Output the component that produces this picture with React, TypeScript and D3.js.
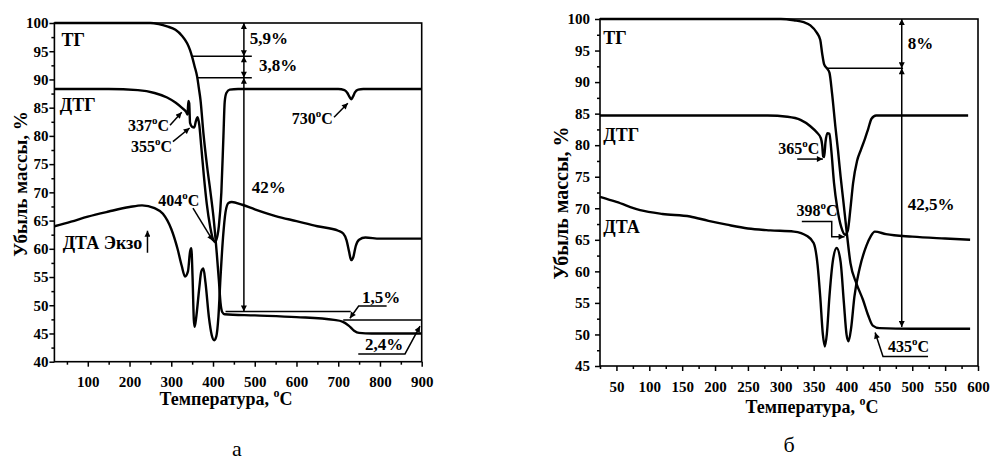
import React, { useRef, useEffect } from 'react';
import * as d3 from 'd3';

type Pt = [number, number];

const FONT = '"Liberation Serif", "Times New Roman", serif';

// ---- panel "а" (temperature, °C ; mass loss, %)
const tgA: Pt[] = [
  [20, 100], [250, 100], [270, 99.8], [290, 99.4], [310, 98.8], [325, 97.8], [338, 96.4],
  [345, 95.2], [350, 94.0], [356, 92.3], [362, 90.5], [366, 88.5], [370, 86.4], [377, 80.5],
  [386, 74.5], [394, 70], [401, 65.7], [409, 59.2], [414, 54.5], [418, 50.4], [422, 48.8],
  [428, 48.4], [500, 48.2], [600, 47.9], [690, 47.4], [710, 47.1], [725, 46.4], [738, 45.5],
  [750, 45.1], [780, 45.0], [900, 45.0],
];
const dtgA: Pt[] = [
  [20, 88.3], [150, 88.3], [220, 88.1], [260, 87.6], [290, 86.8], [310, 85.9], [325, 85.0],
  [336, 84.2], [339, 83.8], [341, 86.2], [343, 85.8], [345, 82.3], [350, 81.6], [355, 81.5],
  [359, 82.6], [363, 83.3], [367, 82.0], [372, 78], [378, 73], [385, 68], [393, 64],
  [400, 61.7], [404, 61.2], [408, 61.6], [414, 64], [420, 70], [425, 80], [428, 86],
  [432, 87.6], [440, 88.2], [460, 88.3], [700, 88.3], [715, 88.1], [722, 87.6], [727, 86.9],
  [731, 86.5], [735, 86.9], [740, 87.7], [748, 88.2], [760, 88.3], [900, 88.3],
];
const dtaA: Pt[] = [
  [20, 64.0], [60, 64.8], [100, 65.7], [150, 66.6], [200, 67.4], [230, 67.7], [260, 67.2],
  [280, 66.2], [300, 63.5], [315, 60], [325, 57], [333, 55.1], [340, 56], [345, 59.5],
  [348, 60.1], [351, 55], [354, 47.5], [356, 46.2], [360, 48], [367, 53], [372, 56],
  [377, 56.5], [382, 54], [390, 48], [397, 44.7], [403, 43.8], [408, 44.5], [413, 48],
  [418, 55], [424, 62], [430, 66.5], [437, 68.1], [445, 68.3], [470, 67.8], [500, 67.0],
  [550, 65.8], [600, 64.9], [650, 64.0], [700, 63.2], [712, 62.7], [720, 61.5], [726, 59.5],
  [731, 58.0], [736, 58.5], [742, 60.5], [750, 61.6], [765, 62.0], [800, 61.8], [900, 61.8],
];
const xTicksA = [100, 200, 300, 400, 500, 600, 700, 800, 900];
const xMinorA = [50, 150, 250, 350, 450, 550, 650, 750, 850];
const yTicksA = [40, 45, 50, 55, 60, 65, 70, 75, 80, 85, 90, 95, 100];
const yMinorA = [42.5, 47.5, 52.5, 57.5, 62.5, 67.5, 72.5, 77.5, 82.5, 87.5, 92.5, 97.5];

// ---- panel "б"
const tgB: Pt[] = [
  [25, 100], [300, 100], [320, 99.8], [335, 99.5], [345, 99.0], [355, 97.8], [360, 96.7],
  [363, 94.5], [366, 92.8], [370, 92.2], [374, 91.5], [378, 88.2], [383, 83], [387, 79.2],
  [391, 75], [395, 71.3], [400, 66.5], [406, 61.3], [415, 58.1], [425, 55.5], [433, 53],
  [440, 51.4], [450, 51.0], [500, 50.9], [588, 50.9],
];
const dtgB: Pt[] = [
  [25, 84.7], [280, 84.7], [310, 84.5], [330, 84.0], [345, 83.0], [355, 82.0], [361, 81.1],
  [363, 80], [364.5, 78.2], [366, 78.1], [368, 80.5], [371, 81.9], [374, 81.8], [377, 79],
  [381, 74], [386, 70], [392, 67], [398, 65.8], [402, 66.5], [406, 70], [410, 74],
  [416, 77.5], [422, 79.3], [428, 81], [433, 82.6], [438, 84.2], [445, 84.7], [585, 84.7],
];
const dtaB: Pt[] = [
  [25, 71.8], [50, 71.0], [86, 69.7], [120, 69.1], [162, 68.7], [190, 68.0], [218, 67.4],
  [250, 66.8], [284, 66.5], [320, 66.3], [340, 65.6], [350, 64.5], [356, 61], [360, 56],
  [364, 50], [367, 48.1], [370, 50], [374, 56], [379, 61.5], [385, 63.7], [391, 61.5],
  [396, 55], [400, 50], [403, 48.9], [407, 51], [412, 56], [420, 60.5], [430, 64],
  [437, 65.6], [443, 66.3], [460, 65.9], [500, 65.5], [550, 65.2], [588, 65.0],
];
const xTicksB = [50, 100, 150, 200, 250, 300, 350, 400, 450, 500, 550, 600];
const xMinorB = [25, 75, 125, 175, 225, 275, 325, 375, 425, 475, 525, 575];
const yTicksB = [45, 50, 55, 60, 65, 70, 75, 80, 85, 90, 95, 100];
const yMinorB = [47.5, 52.5, 57.5, 62.5, 67.5, 72.5, 77.5, 82.5, 87.5, 92.5, 97.5];

// annotation: text (deg = superscript "o" + C after the number), lines with arrows
type Label = { t: number; v: number; text: string; size: number; anchor?: string; deg?: boolean };
type Seg = { pts: Pt[]; start?: boolean; end?: boolean };

const labelsA: Label[] = [
  { t: 37, v: 95.9, text: 'ТГ', size: 18 },
  { t: 33, v: 84.4, text: 'ДТГ', size: 18 },
  { t: 40, v: 60.0, text: 'ДТА Экзо', size: 18 },
  { t: 295, v: 80.8, text: '337', size: 16, anchor: 'end', deg: true },
  { t: 302, v: 77.1, text: '355', size: 16, anchor: 'end', deg: true },
  { t: 318, v: 67.6, text: '404', size: 16, anchor: 'middle', deg: true },
  { t: 687, v: 82.1, text: '730', size: 16, anchor: 'end', deg: true },
  { t: 488, v: 96.3, text: '5,9%', size: 17 },
  { t: 510, v: 91.5, text: '3,8%', size: 17 },
  { t: 493, v: 69.9, text: '42%', size: 17 },
  { t: 757, v: 50.4, text: '1,5%', size: 17 },
  { t: 764, v: 42.1, text: '2,4%', size: 17 },
];
const segsA: Seg[] = [
  { pts: [[350, 94.1], [493, 94.1]] },
  { pts: [[362, 90.3], [493, 90.3]] },
  { pts: [[430, 48.9], [730, 48.9]] },
  { pts: [[712, 47.4], [900, 47.4]] },
  { pts: [[474, 100], [474, 94.1]], start: true, end: true },
  { pts: [[474, 94.1], [474, 90.3]], start: true, end: true },
  { pts: [[474, 90.3], [474, 48.9]], start: true, end: true },
  { pts: [[297, 81.9], [325, 84.2]], end: true },
  { pts: [[304, 79.0], [344, 81.4]], end: true },
  { pts: [[352, 67.2], [400, 61.4]], end: true },
  { pts: [[690, 83.3], [723, 85.8]], end: true },
  { pts: [[816, 49.86], [749, 49.86], [728, 47.7]], end: true },
  { pts: [[748, 41.37], [860, 41.37], [896, 46.3]], end: true },
  { pts: [[243, 59.3], [243, 63.2]], end: true },
];

const labelsB: Label[] = [
  { t: 30, v: 96.0, text: 'ТГ', size: 18 },
  { t: 30, v: 80.7, text: 'ДТГ', size: 18 },
  { t: 30, v: 66.1, text: 'ДТА', size: 18 },
  { t: 296, v: 78.6, text: '365', size: 16, deg: true },
  { t: 324, v: 68.8, text: '398', size: 16, deg: true },
  { t: 463, v: 47.2, text: '435', size: 16, deg: true },
  { t: 493, v: 95.2, text: '8%', size: 17 },
  { t: 493, v: 69.7, text: '42,5%', size: 17 },
];
const segsB: Seg[] = [
  { pts: [[370, 92.2], [486, 92.2]] },
  { pts: [[484, 100], [484, 92.2]], start: true, end: true },
  { pts: [[484, 92.2], [484, 51.2]], start: true, end: true },
  { pts: [[325, 77.8], [364, 77.8]], end: true },
  { pts: [[332, 67.9], [377.5, 67.9], [377.5, 65.5], [397, 65.5]], end: true },
  { pts: [[524, 46.5], [455.5, 46.5], [443.5, 50.3]], end: true },
];

type Panel = {
  xDomain: Pt; xRange: Pt; yDomain: Pt; yRange: Pt;
  xTicks: number[]; xMinor: number[]; yTicks: number[]; yMinor: number[];
  curves: Pt[][]; labels: Label[]; segs: Seg[];
  yPad: number; yTitle: Pt; yTitleSize: number; xTitle: Pt; letter: string; letterPos: Pt;
};

const panels: Panel[] = [
  {
    xDomain: [20, 900], xRange: [54.4, 421.7], yDomain: [40, 100], yRange: [361.7, 23],
    xTicks: xTicksA, xMinor: xMinorA, yTicks: yTicksA, yMinor: yMinorA,
    curves: [tgA, dtgA, dtaA], labels: labelsA, segs: segsA,
    yPad: 1, yTitle: [20, 184], yTitleSize: 19, xTitle: [226, 405], letter: 'а', letterPos: [237, 456],
  },
  {
    xDomain: [25, 600], xRange: [600, 978], yDomain: [45, 100], yRange: [366, 19],
    xTicks: xTicksB, xMinor: xMinorB, yTicks: yTicksB, yMinor: yMinorB,
    curves: [tgB, dtgB, dtaB], labels: labelsB, segs: segsB,
    yPad: 5, yTitle: [561, 203], yTitleSize: 20, xTitle: [812, 413], letter: 'б', letterPos: [789, 452],
  },
];

function drawPanel(svg: any, p: Panel) {
  const x = d3.scaleLinear().domain(p.xDomain).range(p.xRange);
  const y = d3.scaleLinear().domain(p.yDomain).range(p.yRange);
  const g = svg.append('g');

  // minor ticks
  g.append('g')
    .attr('transform', `translate(0,${p.yRange[0]})`)
    .call(d3.axisBottom(x).tickValues(p.xMinor).tickSize(3).tickSizeOuter(0).tickFormat(() => ''));
  g.append('g')
    .attr('transform', `translate(${p.xRange[0]},0)`)
    .call(d3.axisLeft(y).tickValues(p.yMinor).tickSize(3).tickSizeOuter(0).tickFormat(() => ''));

  // major ticks
  g.append('g')
    .attr('class', 'x axis')
    .attr('transform', `translate(0,${p.yRange[0]})`)
    .call(d3.axisBottom(x).tickValues(p.xTicks).tickSize(5).tickSizeOuter(0).tickPadding(10).tickFormat(d3.format('d')));
  g.append('g')
    .attr('class', 'y axis')
    .attr('transform', `translate(${p.xRange[0]},0)`)
    .call(d3.axisLeft(y).tickValues(p.yTicks).tickSize(5).tickSizeOuter(0).tickPadding(p.yPad).tickFormat(d3.format('d')));

  g.selectAll('.domain').remove();
  g.selectAll('.tick line').attr('stroke', '#000').attr('stroke-width', 1.5);
  g.selectAll('.tick text')
    .attr('fill', '#000')
    .style('font-family', FONT)
    .style('font-size', '15px')
    .style('font-weight', 'bold');

  // frame
  g.append('rect')
    .attr('x', p.xRange[0])
    .attr('y', p.yRange[1])
    .attr('width', p.xRange[1] - p.xRange[0])
    .attr('height', p.yRange[0] - p.yRange[1])
    .attr('fill', 'none')
    .attr('stroke', '#000')
    .attr('stroke-width', 1.6);

  const line = d3.line<Pt>()
    .x(d => x(d[0]))
    .y(d => y(d[1]))
    .curve(d3.curveMonotoneX);

  p.curves.forEach(c => {
    g.append('path')
      .attr('d', line(c))
      .attr('fill', 'none')
      .attr('stroke', '#000')
      .attr('stroke-width', 2.4)
      .attr('stroke-linejoin', 'round');
  });

  const segLine = d3.line<Pt>().x(d => x(d[0])).y(d => y(d[1]));
  p.segs.forEach(s => {
    g.append('path')
      .attr('d', segLine(s.pts))
      .attr('fill', 'none')
      .attr('stroke', '#000')
      .attr('stroke-width', 1.5)
      .attr('marker-start', s.start ? 'url(#arr)' : null)
      .attr('marker-end', s.end ? 'url(#arr)' : null);
  });

  p.labels.forEach(l => {
    const t = g.append('text')
      .attr('x', x(l.t))
      .attr('y', y(l.v))
      .attr('text-anchor', l.anchor || 'start')
      .style('font-family', FONT)
      .style('font-size', l.size + 'px')
      .style('font-weight', 'bold')
      .attr('fill', '#000');
    t.append('tspan').text(l.text);
    if (l.deg) {
      t.append('tspan').attr('dy', -7).style('font-size', '11px').text('o');
      t.append('tspan').attr('dy', 7).text('C');
    }
  });

  // axis titles
  g.append('text')
    .attr('transform', `translate(${p.yTitle[0]},${p.yTitle[1]}) rotate(-90)`)
    .attr('text-anchor', 'middle')
    .attr('dy', '0.35em')
    .style('font-family', FONT)
    .style('font-size', p.yTitleSize + 'px')
    .style('font-weight', 'bold')
    .text('Убыль массы, %');

  const xt = g.append('text')
    .attr('x', p.xTitle[0])
    .attr('y', p.xTitle[1])
    .attr('text-anchor', 'middle')
    .style('font-family', FONT)
    .style('font-size', '18px')
    .style('font-weight', 'bold');
  xt.append('tspan').text('Температура, ');
  xt.append('tspan').attr('dy', -8).style('font-size', '12px').text('o');
  xt.append('tspan').attr('dy', 8).text('C');

  g.append('text')
    .attr('x', p.letterPos[0])
    .attr('y', p.letterPos[1])
    .attr('text-anchor', 'middle')
    .style('font-family', FONT)
    .style('font-size', '22px')
    .text(p.letter);
}

export default function App() {
  const ref = useRef<SVGSVGElement>(null);

  useEffect(() => {
    const svg = d3.select(ref.current);
    svg.selectAll('*').remove();

    svg.append('defs').append('marker')
      .attr('id', 'arr')
      .attr('viewBox', '0 0 10 10')
      .attr('refX', 10)
      .attr('refY', 5)
      .attr('markerWidth', 7)
      .attr('markerHeight', 6)
      .attr('markerUnits', 'userSpaceOnUse')
      .attr('orient', 'auto-start-reverse')
      .append('path')
      .attr('d', 'M0,0L10,5L0,10Z')
      .attr('fill', '#000');

    panels.forEach(p => drawPanel(svg, p));
  }, []);

  return (
    <svg
      ref={ref}
      width={991}
      height={463}
      style={{ position: 'absolute', left: 0, top: 0, background: '#fff' }}
    />
  );
}
